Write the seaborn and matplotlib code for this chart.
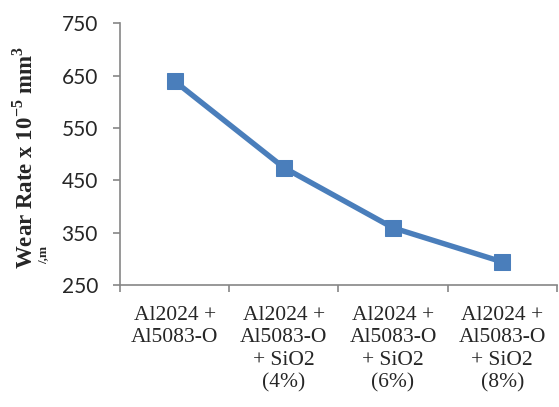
import numpy as np
import pandas as pd
import matplotlib.pyplot as plt
import seaborn as sns

categories = [
    "Al2024 +\nAl5083-O",
    "Al2024 +\nAl5083-O\n+ SiO2\n(4%)",
    "Al2024 +\nAl5083-O\n+ SiO2\n(6%)",
    "Al2024 +\nAl5083-O\n+ SiO2\n(8%)",
]
wear_rate = [639, 474, 359, 294]
y_ticks = [250, 350, 450, 550, 650, 750]

sns.set_style("white")
plt.rcParams['font.family'] = ['Liberation Serif', 'DejaVu Serif']
plt.rcParams['mathtext.fontset'] = 'custom'
plt.rcParams['mathtext.rm'] = 'Liberation Serif'
plt.rcParams['mathtext.bf'] = 'Liberation Serif:bold'

data = pd.DataFrame({'pos': np.arange(len(categories)), 'wear': wear_rate})

fig = plt.figure(figsize=(5.59, 4.07), dpi=100)
ax = fig.add_axes([0.215, 0.30, 0.781, 0.643])

blue = '#4a7ebb'
sns.lineplot(data=data, x='pos', y='wear', ax=ax, color=blue, linewidth=3.9,
             marker='s', markersize=11, markeredgecolor=blue, markerfacecolor=blue)

ax.set_xlim(-0.5, len(categories) - 0.5)
ax.set_ylim(250, 750)
ax.set_yticks(y_ticks)
ax.set_yticklabels([str(v) for v in y_ticks], family=['Lato', 'DejaVu Sans'], fontsize=15)
ax.set_xticks(np.arange(len(categories)))
ax.set_xticklabels(categories, fontsize=15.5, linespacing=1.25)
ax.set_xticks(np.arange(len(categories) + 1) - 0.5, minor=True)
ax.tick_params(axis='x', which='major', length=0, pad=15)
ax.tick_params(axis='x', which='minor', length=5, color='#868686', width=1.2, direction='out', bottom=True)
ax.tick_params(axis='y', length=5, color='#868686', width=1.2, direction='out', left=True, pad=11)

for side in ['top', 'right']:
    ax.spines[side].set_visible(False)
for side in ['left', 'bottom']:
    ax.spines[side].set_color('#868686')
    ax.spines[side].set_linewidth(1.2)

ax.set_xlabel('')
ax.set_ylabel('')
fig.text(0.045, 0.614, r'Wear Rate x 10$^{\mathbf{-5}}$ mm$^{\mathbf{3}}$', rotation=90,
         fontsize=16.5, fontweight='bold', ha='center', va='center')
fig.text(0.077, 0.373, '/,m', rotation=90, fontsize=9.5, fontweight='bold',
         ha='center', va='center')

fig.savefig('out.png', dpi=100)
